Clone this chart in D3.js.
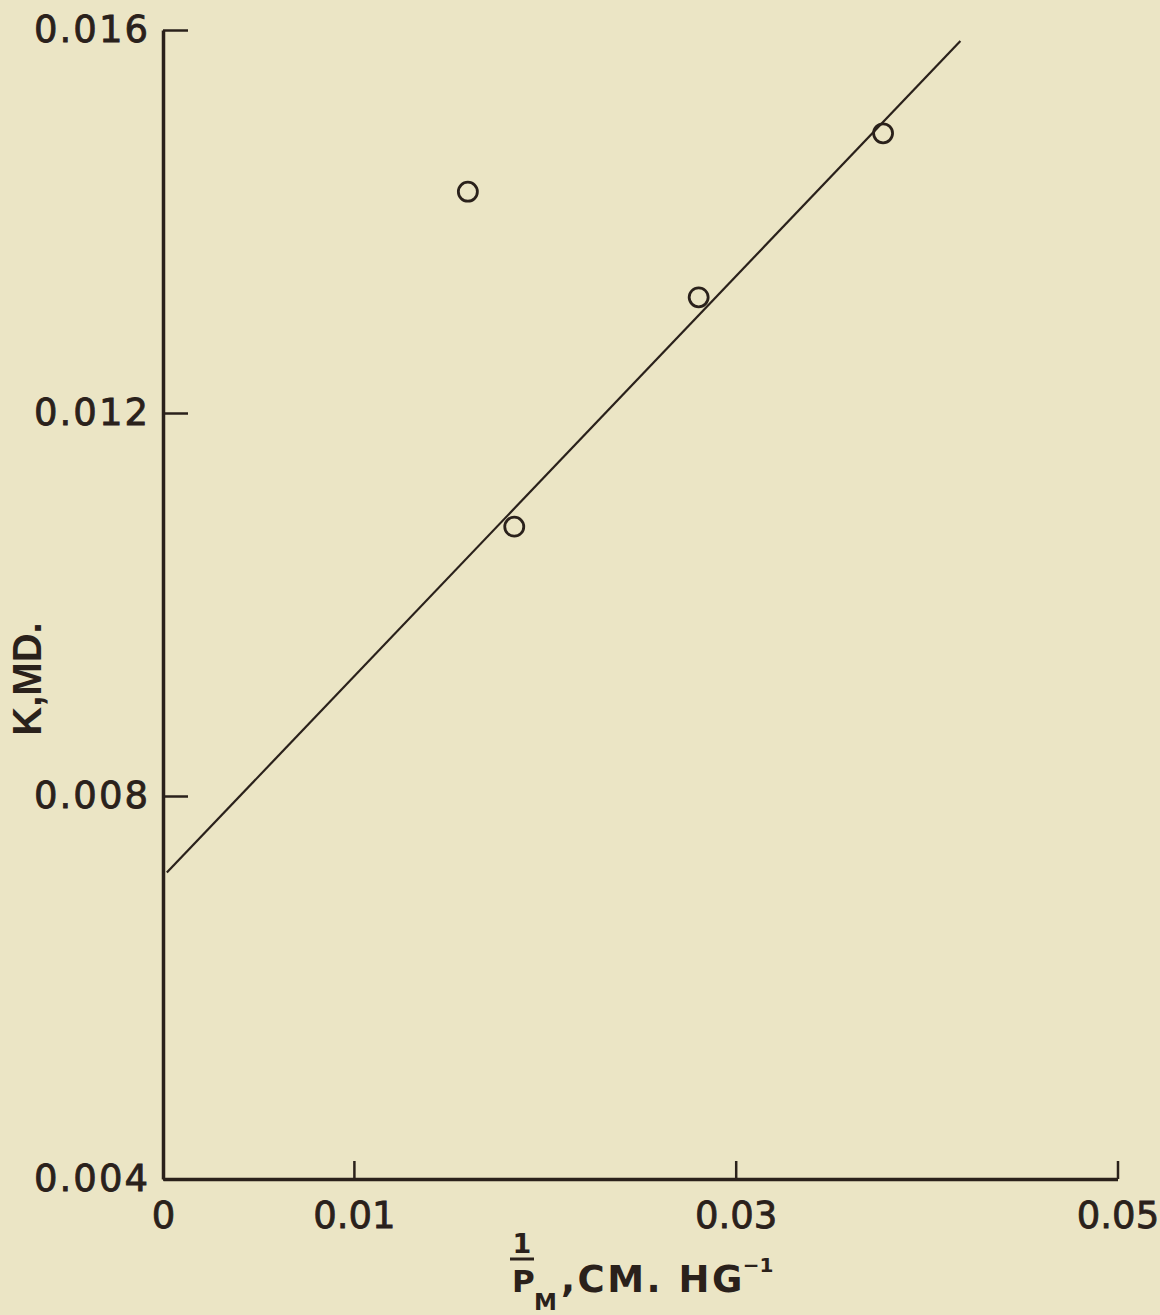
<!DOCTYPE html>
<html>
<head>
<meta charset="utf-8">
<script src="https://cdn.jsdelivr.net/npm/d3@7"></script>
<style>
  html, body { margin: 0; padding: 0; background: #ebe5c5; }
  svg { display: block; }
</style>
</head>
<body>
<svg id="chart" width="1160" height="1315"></svg>
<script>
// ---- data ----
const xTicks = [0, 0.01, 0.03, 0.05];
const yTicks = [0.004, 0.008, 0.012, 0.016];
const pointX = [0.01597, 0.0184, 0.02806, 0.03772];
const pointY = [0.014311, 0.010813, 0.013208, 0.014921];
const fitX = [0.0002, 0.04177];
const fitY = [0.00720, 0.015885];

// ---- layout ----
const W = 1160, H = 1315;
const ink = "#2a211b";
const padL = 163, padR = 1117.5, padT = 30, padB = 1179;

const svg = d3.select("#chart");
svg.append("rect").attr("width", W).attr("height", H).attr("fill", "#ebe5c5");

const x = d3.scaleLinear().domain([0, 0.05]).range([padL, padR]);
const y = d3.scaleLinear().domain([0.004, 0.016]).range([padB, padT]);

// x axis
const gx = svg.append("g")
  .attr("transform", `translate(0,${padB})`)
  .call(d3.axisBottom(x).tickValues(xTicks).tickSize(-18).tickSizeOuter(0).tickPadding(23)
    .tickFormat(d => d === 0 ? "0" : d3.format(".2f")(d)));
gx.select(".domain").attr("stroke", ink).attr("stroke-width", 3.5);
gx.selectAll(".tick line").attr("stroke", ink).attr("stroke-width", 2.5);
gx.selectAll(".tick text")
  .attr("fill", ink)
  .attr("stroke", ink)
  .attr("stroke-width", 0.8)
  .attr("font-family", "DejaVu Sans")
  .attr("font-size", 37);

// y axis
const gy = svg.append("g")
  .attr("transform", `translate(${padL},0)`)
  .call(d3.axisLeft(y).tickValues(yTicks).tickSize(-25).tickSizeOuter(0).tickPadding(13)
    .tickFormat(d3.format(".3f")));
gy.select(".domain").attr("stroke", ink).attr("stroke-width", 3.5);
gy.selectAll(".tick line").attr("stroke", ink).attr("stroke-width", 2.5);
gy.selectAll(".tick text")
  .attr("fill", ink)
  .attr("stroke", ink)
  .attr("stroke-width", 0.8)
  .attr("font-family", "DejaVu Sans")
  .attr("font-size", 37)
  .attr("letter-spacing", 2);

// fitted line
const fit = fitX.map((v, i) => [v, fitY[i]]);
svg.append("path")
  .datum(fit)
  .attr("d", d3.line().x(d => x(d[0])).y(d => y(d[1])))
  .attr("fill", "none")
  .attr("stroke", ink)
  .attr("stroke-width", 2.2);

// points
const pts = pointX.map((v, i) => [v, pointY[i]]);
svg.append("g").selectAll("circle")
  .data(pts)
  .join("circle")
  .attr("cx", d => x(d[0]))
  .attr("cy", d => y(d[1]))
  .attr("r", 9.5)
  .attr("fill", "none")
  .attr("stroke", ink)
  .attr("stroke-width", 2.8);

// y axis label
svg.append("text")
  .attr("transform", "translate(41,679) rotate(-90)")
  .attr("text-anchor", "middle")
  .attr("font-family", "Liberation Sans")
  .attr("font-weight", "bold")
  .attr("font-size", 40)
  .attr("fill", ink)
  .text("K,MD.");

// x axis label: 1/P_M ,CM. HG^-1
const xl = svg.append("g")
  .attr("fill", ink)
  .attr("font-family", "DejaVu Sans")
  .attr("font-weight", "bold");
xl.append("text")
  .attr("x", 522).attr("y", 1253)
  .attr("text-anchor", "middle")
  .attr("font-size", 27)
  .text("1");
xl.append("line")
  .attr("x1", 510).attr("x2", 534)
  .attr("y1", 1259).attr("y2", 1259)
  .attr("stroke", ink).attr("stroke-width", 3);
xl.append("text")
  .attr("x", 512).attr("y", 1292)
  .attr("font-size", 31)
  .text("P");
xl.append("text")
  .attr("x", 534).attr("y", 1310)
  .attr("font-size", 23)
  .text("M");
const main = xl.append("text")
  .attr("x", 561).attr("y", 1292)
  .attr("font-size", 37)
  .attr("letter-spacing", 2.5);
main.append("tspan").text(",CM. HG");
main.append("tspan")
  .attr("font-size", 20)
  .attr("dx", -2)
  .attr("dy", -20)
  .attr("letter-spacing", 0)
  .text("−1");
</script>
</body>
</html>
